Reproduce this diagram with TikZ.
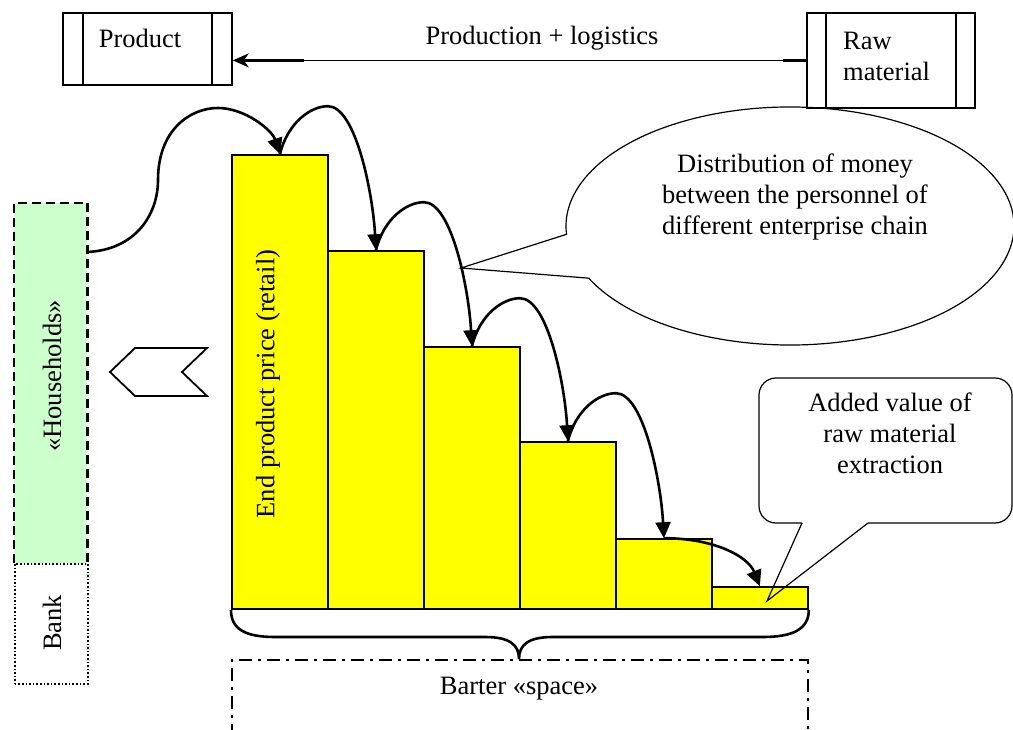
\documentclass[tikz,border=0pt]{standalone}
\usepackage{fontspec}
\setmainfont{Liberation Serif}
\usetikzlibrary{arrows.meta,calc}
\definecolor{barfill}{HTML}{FFFF00}
\definecolor{hhfill}{HTML}{CCFFCC}

\begin{document}
\begin{tikzpicture}[x=1pt,y=-1pt,
  every node/.style={font=\fontsize{26.5}{31}\selectfont, inner sep=0pt},
  stock/.style={draw, line width=1.8pt, anchor=north west},
  barbox/.style={draw, line width=1.8pt, fill=barfill, minimum width=96pt, anchor=south west},
  hop/.style={line width=2.6pt, -{Triangle[length=16pt,width=15pt]}},
  note/.style={line width=1.2pt},
  thin box/.style={line width=1.8pt},
]
\useasboundingbox (0,0) rectangle (1013,730);
\clip (0,0) rectangle (1013,730);

% --- product and raw material stocks ---
\node[stock, minimum width=169pt, minimum height=72pt] (product) at (62,12) {};
\draw[thin box] ([xshift=21pt]product.north west) -- ([xshift=21pt]product.south west)
                ([xshift=-21pt]product.north east) -- ([xshift=-21pt]product.south east);
\node (producttxt) at (140,38) {Product};

\node[stock, minimum width=168pt, minimum height=95pt] (raw) at (806,12) {};
\draw[thin box] ([xshift=20pt]raw.north west) -- ([xshift=20pt]raw.south west)
                ([xshift=-20pt]raw.north east) -- ([xshift=-20pt]raw.south east);
\node[align=left, anchor=west] (rawtxt) at (843,56) {Raw\\material};

% production flow
\draw[line width=1.2pt, -{Stealth[length=16pt,width=14pt,inset=5pt]}]
  (raw.west) -- (raw.west -| product.east);
\draw[line width=2.4pt] (raw.west) -- +(-23,0);
\draw[line width=2.4pt] (raw.west -| product.east) ++(8,0) -- ++(63,0);
\node (flowlbl) at (542,38) {Production + logistics};

% --- households and bank ---
\node[fill=hhfill, minimum width=73pt, minimum height=360pt, anchor=north west] (households) at (14,203) {};
\draw[line width=2.6pt, dash pattern=on 9pt off 5pt]
  (households.south west) -- (households.north west) -- (households.north east) -- (households.south east);
\node[rotate=90] (hhlbl) at (52,376) {«Households»};
\node[draw, dotted, line width=1.6pt, fill=white, minimum width=73pt, minimum height=120pt,
      anchor=north west] (bank) at (14,563) {};
\node[rotate=90] (banklbl) at (52,623) {Bank};

% money flow marker
\draw[thin box] (110,372) -- (135,348) -- (207,348) -- (182,372) -- (207,396) -- (135,396) -- cycle;

% --- price staircase ---
\node[barbox, minimum height=454pt] (b1) at (231,610) {};
\node[barbox, minimum height=358pt] (b2) at (327,610) {};
\node[barbox, minimum height=262pt] (b3) at (423,610) {};
\node[barbox, minimum height=167pt] (b4) at (519,610) {};
\node[barbox, minimum height=70pt]  (b5) at (615,610) {};
\node[barbox, minimum height=22pt]  (b6) at (711,610) {};
\node[rotate=90] (retail) at (268,384) {End product price (retail)};

% money hops
\coordinate (hhport) at (87,252);
\draw[hop] (hhport) .. controls (135,250) and (158,215) .. (158,180)
  .. controls (158,130) and (190,108) .. (218,108)
  .. controls (245,108) and (272,130) .. (b1.north);
\foreach \a/\b in {b1/b2, b2/b3, b3/b4, b4/b5}
  \draw[hop] (\a.north) .. controls +(8,-32) and +(-17,0) .. ++(48,-48)
    .. controls +(28,0) and +(-3,-56) .. (\b.north);
\draw[hop] (b5.north) .. controls +(50,0) and +(-12,-30) .. (b6.north);

% brace under the staircase
\draw[line width=2.6pt] (b1.south west) .. controls +(0,19) and +(-30,0) .. (275,637)
  -- (485,637) .. controls (510,637) and (519,645) .. (519,659)
  .. controls (519,645) and (528,637) .. (553,637)
  -- (763,637) .. controls +(30,0) and +(0,19) .. (b6.south east);

% barter space
\node[draw, line width=1.5pt, dash pattern=on 13pt off 6pt on 3pt off 6pt,
      minimum width=576pt, minimum height=100pt, anchor=north west] (barter) at (231,659) {};
\node (bartertxt) at (519,689) {Barter «space»};

% --- callouts ---
\coordinate (moneytip) at (461,268);
\draw[note] (moneytip) -- ($(790,226)+(154:224 and 119)$)
  arc[start angle=154, end angle=-184, x radius=224, y radius=119] -- cycle;
\node[align=center] (moneytxt) at (795,197) {Distribution of money\\between the personnel of\\different enterprise chain};

\coordinate (rawtip) at (767,601);
\draw[note, rounded corners=17pt] (868,523) -- (1012,523) -- (1012,378) -- (759,378) -- (759,523) -- (802,523);
\draw[note] (802,523) -- (rawtip) -- (868,523);
\node[align=center] (rawnote) at (890,433) {Added value of\\raw material\\extraction};
\end{tikzpicture}
\end{document}
